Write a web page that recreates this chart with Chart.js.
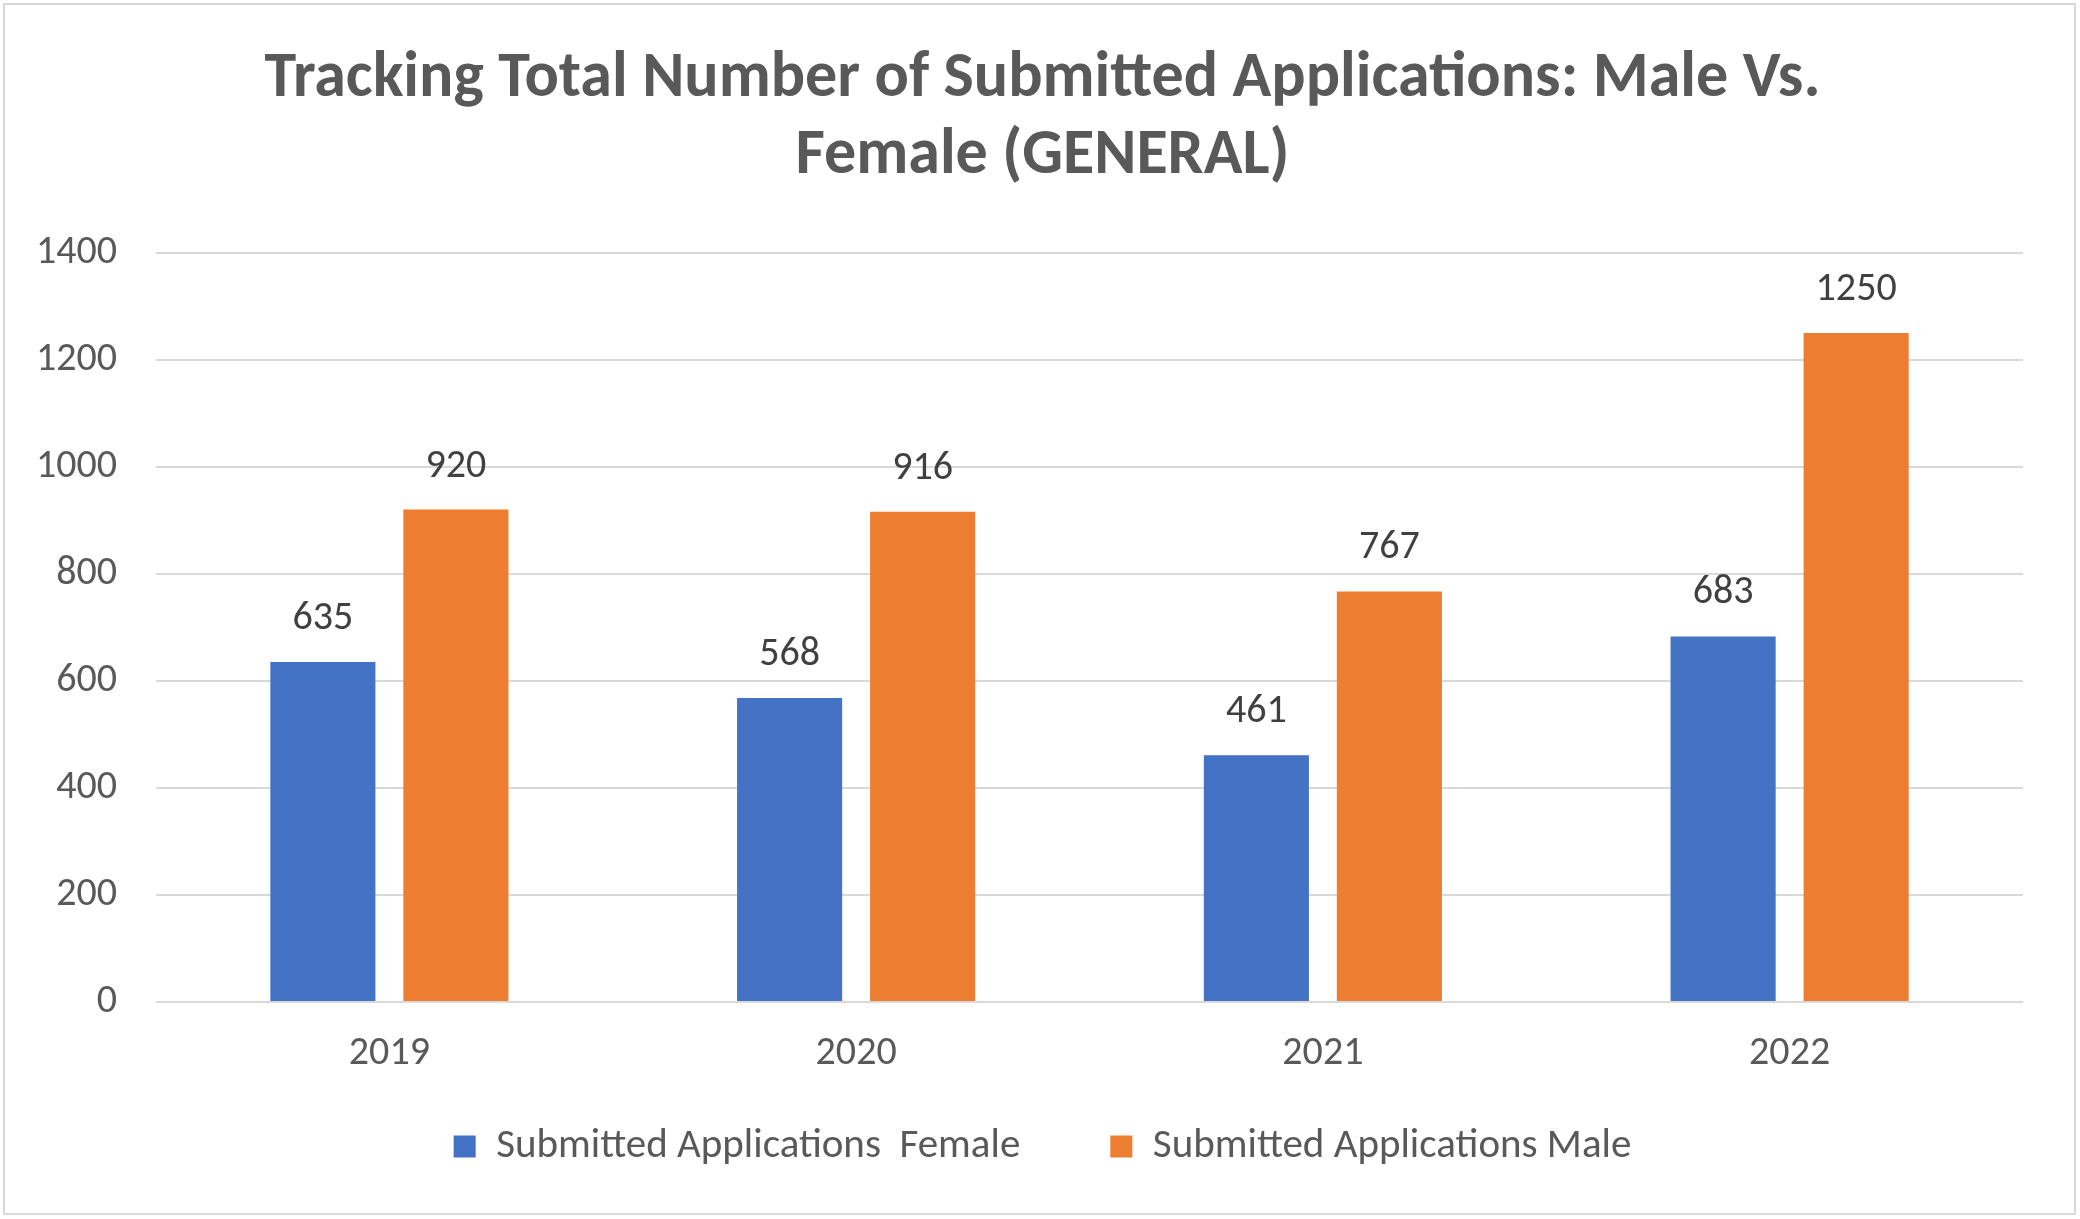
<!DOCTYPE html>
<html>
<head>
<meta charset="utf-8">
<script src="https://cdn.jsdelivr.net/npm/chart.js@4.4.1/dist/chart.umd.min.js"></script>
<style>
  html, body { margin: 0; padding: 0; background: #ffffff; }
  #wrap { width: 2080px; height: 1219px; position: relative; }
</style>
</head>
<body>
<div id="wrap"><canvas id="appsChart" width="2080" height="1219"></canvas></div>
<script>
// data
const years = ['2019', '2020', '2021', '2022'];
const femaleApps = [635, 568, 461, 683];
const maleApps = [920, 916, 767, 1250];
const seriesNames = ['Submitted Applications  Female', 'Submitted Applications Male'];
const titleLines = ['Tracking Total Number of Submitted Applications: Male Vs.', 'Female (GENERAL)'];

const FONT = 'Carlito, Lato, "Open Sans", sans-serif';

// light grey frame round the whole chart, as in the spreadsheet export
const frame = {
    id: 'frame',
    beforeDraw(chart) {
        const ctx = chart.ctx;
        ctx.save();
        ctx.fillStyle = '#ffffff';
        ctx.fillRect(0, 0, chart.width, chart.height);
        ctx.strokeStyle = '#d9d9d9';
        ctx.lineWidth = 2;
        ctx.strokeRect(4, 4, chart.width - 9, chart.height - 9);
        ctx.restore();
    }
};

// value labels above each bar
const valueLabels = {
    id: 'valueLabels',
    afterDatasetsDraw(chart) {
        const ctx = chart.ctx;
        ctx.save();
        ctx.font = '40px ' + FONT;
        ctx.fillStyle = '#404040';
        ctx.textAlign = 'center';
        ctx.textBaseline = 'middle';
        chart.data.datasets.forEach((ds, i) => {
            chart.getDatasetMeta(i).data.forEach((bar, j) => {
                ctx.fillText(String(ds.data[j]), bar.x, bar.y - 43);
            });
        });
        ctx.restore();
    }
};

new Chart(document.getElementById('appsChart').getContext('2d'), {
    type: 'bar',
    data: {
        labels: years,
        datasets: [
            { label: seriesNames[0], data: femaleApps, backgroundColor: '#4472C4' },
            { label: seriesNames[1], data: maleApps, backgroundColor: '#ED7D31' }
        ]
    },
    options: {
        responsive: false,
        animation: false,
        devicePixelRatio: 1,
        categoryPercentage: 0.57,
        barPercentage: 0.79,
        layout: { padding: { left: 62, right: 57, top: 0, bottom: 42 } },
        scales: {
            x: {
                grid: { display: false, drawTicks: false },
                border: { display: false },
                // mirrored so the labels are not clipped to the squeezed axis box
                ticks: { mirror: true, color: '#595959', font: { family: FONT, size: 40 }, padding: -76 },
                afterFit(axis) { axis.height = 34; }
            },
            y: {
                min: 0,
                max: 1400,
                ticks: {
                    stepSize: 200, color: '#595959', font: { family: FONT, size: 40 },
                    mirror: true, crossAlign: 'far', padding: -120,
                    callback: (v) => String(v)
                },
                grid: { color: '#d9d9d9', lineWidth: 2, drawTicks: false },
                border: { display: false },
                afterFit(axis) { axis.width = 94; }
            }
        },
        plugins: {
            title: {
                display: true,
                text: titleLines,
                color: '#595959',
                font: { family: FONT, size: 64, weight: 'bold', lineHeight: 1.2 },
                padding: { top: 42, bottom: 57 }
            },
            legend: {
                position: 'bottom',
                labels: {
                    color: '#595959',
                    font: { family: FONT, size: 41 },
                    boxWidth: 22,
                    boxHeight: 22,
                    padding: 90
                }
            },
            tooltip: { enabled: false }
        }
    },
    plugins: [frame, valueLabels]
});
</script>
</body>
</html>
